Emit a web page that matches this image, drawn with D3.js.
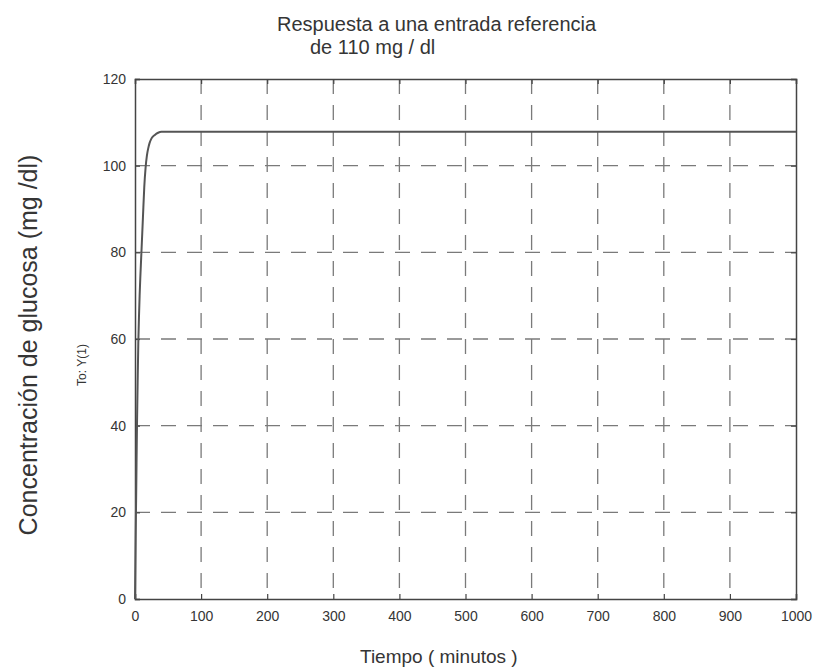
<!DOCTYPE html>
<html>
<head>
<meta charset="utf-8">
<script src="https://cdn.jsdelivr.net/npm/d3@7"></script>
<style>
  body { margin: 0; background: #fff; }
  text { font-family: "Liberation Sans", Arial, sans-serif; fill: #353535; }
</style>
</head>
<body>
<script>
// tiempo (minutos) y concentracion (mg/dl)
const tiempo = [0, 1, 2, 3, 4, 5, 6, 7, 8, 10, 12, 14, 16, 18, 20, 22, 25, 30, 35, 40, 50, 100, 200, 300, 400, 500, 600, 700, 800, 900, 1000]
const glucosa = [0, 14, 27, 40, 50, 59, 65, 70, 74, 81, 88, 95, 99.5, 102.3, 104, 105.2, 106.3, 107.1, 107.6, 107.8, 107.8, 107.8, 107.8, 107.8, 107.8, 107.8, 107.8, 107.8, 107.8, 107.8, 107.8]
const xticks = [0, 100, 200, 300, 400, 500, 600, 700, 800, 900, 1000]
const yticks = [0, 20, 40, 60, 80, 100, 120]

const w = 819
const h = 668

const xscale = d3.scaleLinear()
   .domain([0, 1000])
   .range([135, 796])

const yscale = d3.scaleLinear()
   .domain([0, 120])
   .range([599, 79])

const svgarea = d3.select("body")
 .append("svg")
 .attr("width", w)
 .attr("height", h)

// rejilla punteada
svgarea.append("g")
  .selectAll("line")
  .data(xticks.slice(1, -1))
  .enter()
  .append("line")
  .attr("x1", d => xscale(d))
  .attr("x2", d => xscale(d))
  .attr("y1", yscale(120))
  .attr("y2", yscale(0))
  .attr("stroke", "#7a7a7a")
  .attr("stroke-width", 1.3)
  .attr("stroke-dasharray", "15,11")

svgarea.append("g")
  .selectAll("line")
  .data(yticks.slice(1, -1))
  .enter()
  .append("line")
  .attr("x1", xscale(0))
  .attr("x2", xscale(1000))
  .attr("y1", d => yscale(d))
  .attr("y2", d => yscale(d))
  .attr("stroke", "#7a7a7a")
  .attr("stroke-width", 1.3)
  .attr("stroke-dasharray", "15,11")

// ejes
const xAxis = d3.axisBottom(xscale).tickValues(xticks).tickSize(-5).tickPadding(12).tickFormat(d3.format("d"))
const yAxis = d3.axisLeft(yscale).tickValues(yticks).tickSize(-5).tickPadding(9).tickFormat(d3.format("d"))
const xAxisTop = d3.axisTop(xscale).tickValues(xticks).tickSize(-5).tickFormat("")
const yAxisRight = d3.axisRight(yscale).tickValues(yticks).tickSize(-5).tickFormat("")

svgarea.append("g")
   .attr("transform", "translate(0," + yscale(0) + ")")
   .call(xAxis)
   .attr("id", "x-axis")
svgarea.append("g")
   .attr("transform", "translate(" + xscale(0) + ",0)")
   .call(yAxis)
   .attr("id", "y-axis")
svgarea.append("g")
   .attr("transform", "translate(0," + yscale(120) + ")")
   .call(xAxisTop)
svgarea.append("g")
   .attr("transform", "translate(" + xscale(1000) + ",0)")
   .call(yAxisRight)

svgarea.selectAll(".domain").attr("stroke", "#444").attr("stroke-width", 1.5)
svgarea.selectAll(".tick line").attr("stroke", "#444").attr("stroke-width", 1.2)
svgarea.selectAll(".tick text")
  .style("font-size", "14px")
  .style("font-family", "'Liberation Sans', Arial, sans-serif")
  .attr("fill", "#353535")

// respuesta
const linea = d3.line()
  .x((d, i) => xscale(tiempo[i]))
  .y(d => yscale(d))
  .curve(d3.curveMonotoneX)

svgarea.append("path")
  .datum(glucosa)
  .attr("d", linea)
  .attr("fill", "none")
  .attr("stroke", "#555")
  .attr("stroke-width", 2)

// textos
svgarea.append("text")
  .attr("x", 277).attr("y", 31)
  .style("font-size", "20px")
  .text("Respuesta a una entrada referencia")
svgarea.append("text")
  .attr("x", 310).attr("y", 54)
  .style("font-size", "20px")
  .text("de 110 mg / dl")

svgarea.append("text")
  .attr("x", 360).attr("y", 663)
  .style("font-size", "19px")
  .text("Tiempo ( minutos )")

svgarea.append("text")
  .attr("transform", "translate(37,345) rotate(-90)")
  .attr("text-anchor", "middle")
  .style("font-size", "25px")
  .text("Concentración de glucosa (mg /dl)")

svgarea.append("text")
  .attr("transform", "translate(86,365) rotate(-90)")
  .attr("text-anchor", "middle")
  .style("font-size", "12px")
  .text("To: Y(1)")
</script>
</body>
</html>
